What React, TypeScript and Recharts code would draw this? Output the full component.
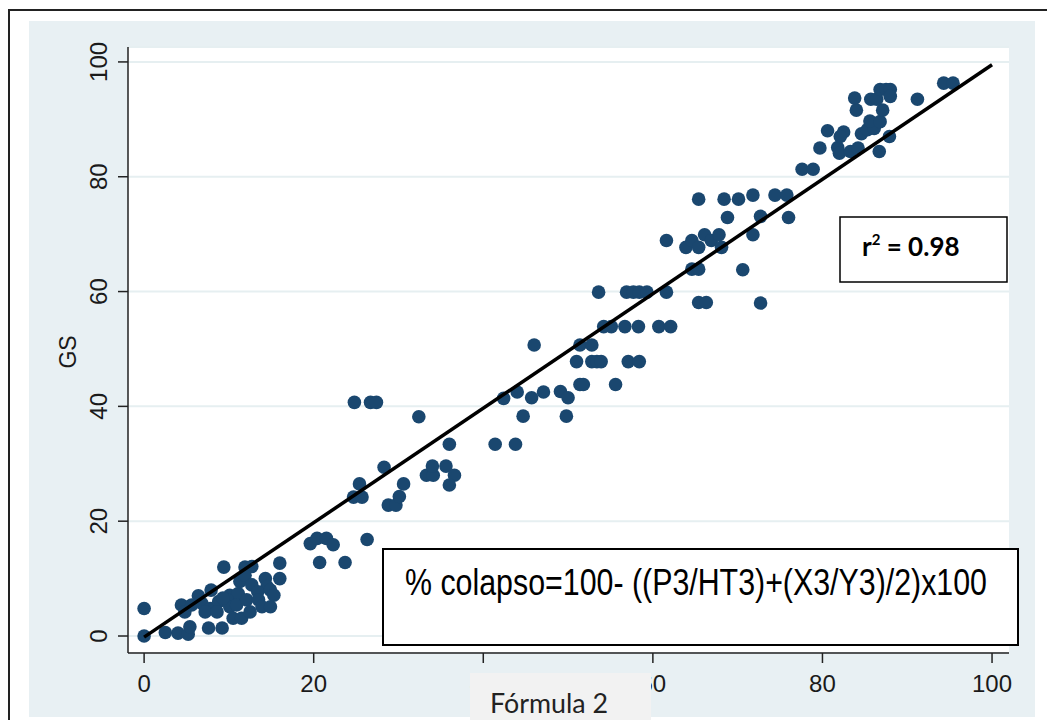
import React from 'react';
import { ScatterChart, Scatter, XAxis, YAxis, CartesianGrid } from 'recharts';

// Fórmula 2 (x) values
const formula2: number[] = [
  0, 0, 2.5, 4.0, 5.2, 5.4, 7.6, 9.2,
  4.4, 4.8, 6.4, 7.9, 9.4, 11.9, 12.7, 16.0, 16.0,
  11.3, 11.9, 12.7, 14.3, 14.5,
  10.1, 11.1, 13.4, 14.9, 15.3,
  6.8, 7.8, 8.8, 9.8, 10.1, 10.9, 12.1, 13.5, 13.9, 14.9,
  7.2, 8.6, 10.5, 11.5, 12.5, 5.6, 9.3,
  19.6, 20.4, 21.5, 22.3, 26.3, 20.7, 23.7,
  24.8, 26.7, 27.4, 32.4,
  28.3, 25.4, 24.7, 25.7, 30.6, 28.8, 29.7, 30.1,
  33.3, 34.1, 34.0, 35.6, 36.6, 36.0, 36.0,
  41.4, 43.8, 42.4, 44.0, 44.7, 45.7, 46.0, 47.1, 49.1, 50.0, 49.8,
  51.4, 51.8, 55.6, 51.0, 52.8, 53.4, 53.9, 57.1, 58.4, 51.4, 52.8,
  54.2, 55.1, 56.7, 58.3, 60.7, 62.1,
  53.6, 56.9, 57.7, 58.4, 59.3, 61.6,
  65.4, 66.3, 72.7,
  64.6, 65.4, 70.6,
  61.6, 63.9, 64.6, 65.4, 66.1, 66.9, 67.8, 68.1, 71.8,
  68.8, 72.7, 76.0,
  65.4, 68.4, 70.1, 71.8, 74.4, 75.8,
  77.6, 78.9,
  79.7, 80.6, 81.8, 82.0, 83.3, 84.2, 86.7, 82.5, 82.1, 84.6, 85.3, 86.1, 85.6, 86.8, 87.9,
  84.0, 87.1, 83.8, 85.7, 86.4, 86.8, 87.5, 88.0, 88.0, 91.2, 94.3, 95.4,
];

// GS (y) values
const gs: number[] = [
  0, 4.8, 0.6, 0.5, 0.3, 1.6, 1.4, 1.4,
  5.4, 4.2, 7.0, 8.0, 12.0, 12.0, 12.1, 12.7, 10.0,
  9.5, 10.6, 8.9, 10.0, 8.6,
  7.1, 7.4, 7.7, 8.0, 7.1,
  5.7, 4.8, 6.0, 6.3, 5.1, 5.4, 6.3, 6.3, 5.1, 5.1,
  4.2, 4.2, 3.1, 3.1, 4.2, 5.4, 6.6,
  16.1, 17.0, 17.0, 15.9, 16.8, 12.8, 12.8,
  40.7, 40.7, 40.7, 38.2,
  29.4, 26.5, 24.2, 24.2, 26.5, 22.8, 22.8, 24.3,
  28.0, 28.0, 29.6, 29.6, 28.0, 26.3, 33.4,
  33.4, 33.4, 41.4, 42.5, 38.3, 41.5, 50.7, 42.5, 42.6, 41.5, 38.3,
  43.8, 43.8, 43.8, 47.8, 47.8, 47.8, 47.8, 47.8, 47.8, 50.7, 50.7,
  53.9, 53.9, 53.9, 53.9, 53.9, 53.9,
  59.9, 59.9, 59.9, 59.9, 59.9, 59.9,
  58.1, 58.1, 58.0,
  63.9, 63.9, 63.8,
  68.9, 67.7, 68.9, 67.7, 69.9, 68.9, 69.9, 67.7, 69.9,
  72.9, 73.1, 72.9,
  76.1, 76.1, 76.1, 76.8, 76.8, 76.8,
  81.3, 81.3,
  85.0, 88.0, 85.1, 84.1, 84.4, 85.0, 84.4, 87.8, 87.0, 87.5, 88.2, 88.4, 89.7, 89.6, 87.0,
  91.6, 91.6, 93.7, 93.5, 93.5, 95.2, 95.2, 95.2, 94.0, 93.5, 96.3, 96.3,
];

const xTicks = [0, 20, 40, 60, 80, 100];
const yTicks = [0, 20, 40, 60, 80, 100];
const fitX = [0, 100];
const fitY = [-0.2, 99.5];

const points = formula2.map((x, i) => ({ x, y: gs[i] }));
const fitLine = fitX.map((x, i) => ({ x, y: fitY[i] }));

const AXIS_FONT = "'Liberation Sans', Arial, Helvetica, sans-serif";
const DOT = '#1a476f';
const BG = '#e8f0f3';

const YTick = (props: any) => {
  const { x, y, payload } = props;
  return (
    <text
      x={0}
      y={0}
      transform={`translate(${x - 11},${y}) rotate(-90)`}
      textAnchor="middle"
      fontSize={24}
      fontFamily={AXIS_FONT}
      fill="#1a1a1a"
    >
      {payload.value}
    </text>
  );
};

const XTick = (props: any) => {
  const { x, y, payload } = props;
  return (
    <text x={x} y={y + 29} textAnchor="middle" fontSize={24} fontFamily={AXIS_FONT} fill="#1a1a1a">
      {payload.value}
    </text>
  );
};

const Dot = (props: any) => <circle cx={props.cx} cy={props.cy} r={6.8} fill={DOT} />;
const NoDot = () => <g />;

export default function App() {
  return (
    <div style={{ position: 'absolute', left: 0, top: 0, width: 1047, height: 720, background: '#fff' }}>
      <svg width={1047} height={720} style={{ position: 'absolute', left: 0, top: 0 }}>
        <rect x={29} y={21} width={1006} height={696} fill={BG} />
        <polyline points="9,720 9,10 1047,10" fill="none" stroke="#222" strokeWidth={2} />
      </svg>
      <div style={{ position: 'absolute', left: 0, top: 0 }}>
        <ScatterChart width={1047} height={720} margin={{ top: 47, right: 38, bottom: 37, left: 68 }}>
          <CartesianGrid vertical={false} stroke="#e6eff1" strokeWidth={2} fill="#ffffff" fillOpacity={1} />
          <XAxis
            type="number"
            dataKey="x"
            domain={[-1.9, 102]}
            allowDataOverflow
            ticks={xTicks}
            height={30}
            tickSize={10}
            tickMargin={0}
            axisLine={{ stroke: '#222', strokeWidth: 1.5 }}
            tickLine={{ stroke: '#222', strokeWidth: 1.5 }}
            tick={<XTick />}
          />
          <YAxis
            type="number"
            dataKey="y"
            domain={[-2.96, 102.6]}
            allowDataOverflow
            ticks={yTicks}
            width={60}
            tickSize={10}
            tickMargin={0}
            axisLine={{ stroke: '#222', strokeWidth: 1.5 }}
            tickLine={{ stroke: '#222', strokeWidth: 1.5 }}
            tick={<YTick />}
          />
          <Scatter data={points} shape={<Dot />} isAnimationActive={false} />
          <Scatter
            data={fitLine}
            line={{ stroke: '#000', strokeWidth: 3.5 }}
            lineType="joint"
            shape={<NoDot />}
            isAnimationActive={false}
          />
        </ScatterChart>
      </div>
      <svg width={1047} height={720} style={{ position: 'absolute', left: 0, top: 0, pointerEvents: 'none' }}>
        <text
          x={0}
          y={0}
          transform="translate(76,352) rotate(-90)"
          textAnchor="middle"
          fontSize={23}
          fontFamily={AXIS_FONT}
          fill="#1a1a1a"
        >
          GS
        </text>
        <rect x={840} y={217} width={167} height={65} fill="#fff" stroke="#000" strokeWidth={1.5} />
        <text x={862} y={256} fontSize={26} fontWeight="bold" fontFamily="Lato, 'Open Sans', sans-serif" fill="#000">
          r<tspan fontSize={15} dy={-11}>2</tspan>
          <tspan dy={11}> = 0.98</tspan>
        </text>
        <rect x={383} y={549} width={635} height={96} fill="#fff" stroke="#000" strokeWidth={2} />
        <text
          x={405}
          y={595}
          fontSize={36}
          fontFamily="'Liberation Sans Narrow', 'Liberation Sans', Arial, sans-serif"
          textLength={582}
          lengthAdjust="spacingAndGlyphs"
          fill="#000"
        >
          % colapso=100- ((P3/HT3)+(X3/Y3)/2)x100
        </text>
        <rect x={470} y={673} width={181} height={47} fill="#f2f2f2" />
        <text
          x={490}
          y={713}
          fontSize={27}
          fontFamily="Lato, 'Open Sans', sans-serif"
          textLength={118}
          lengthAdjust="spacingAndGlyphs"
          fill="#222"
        >
          Fórmula 2
        </text>
      </svg>
    </div>
  );
}
